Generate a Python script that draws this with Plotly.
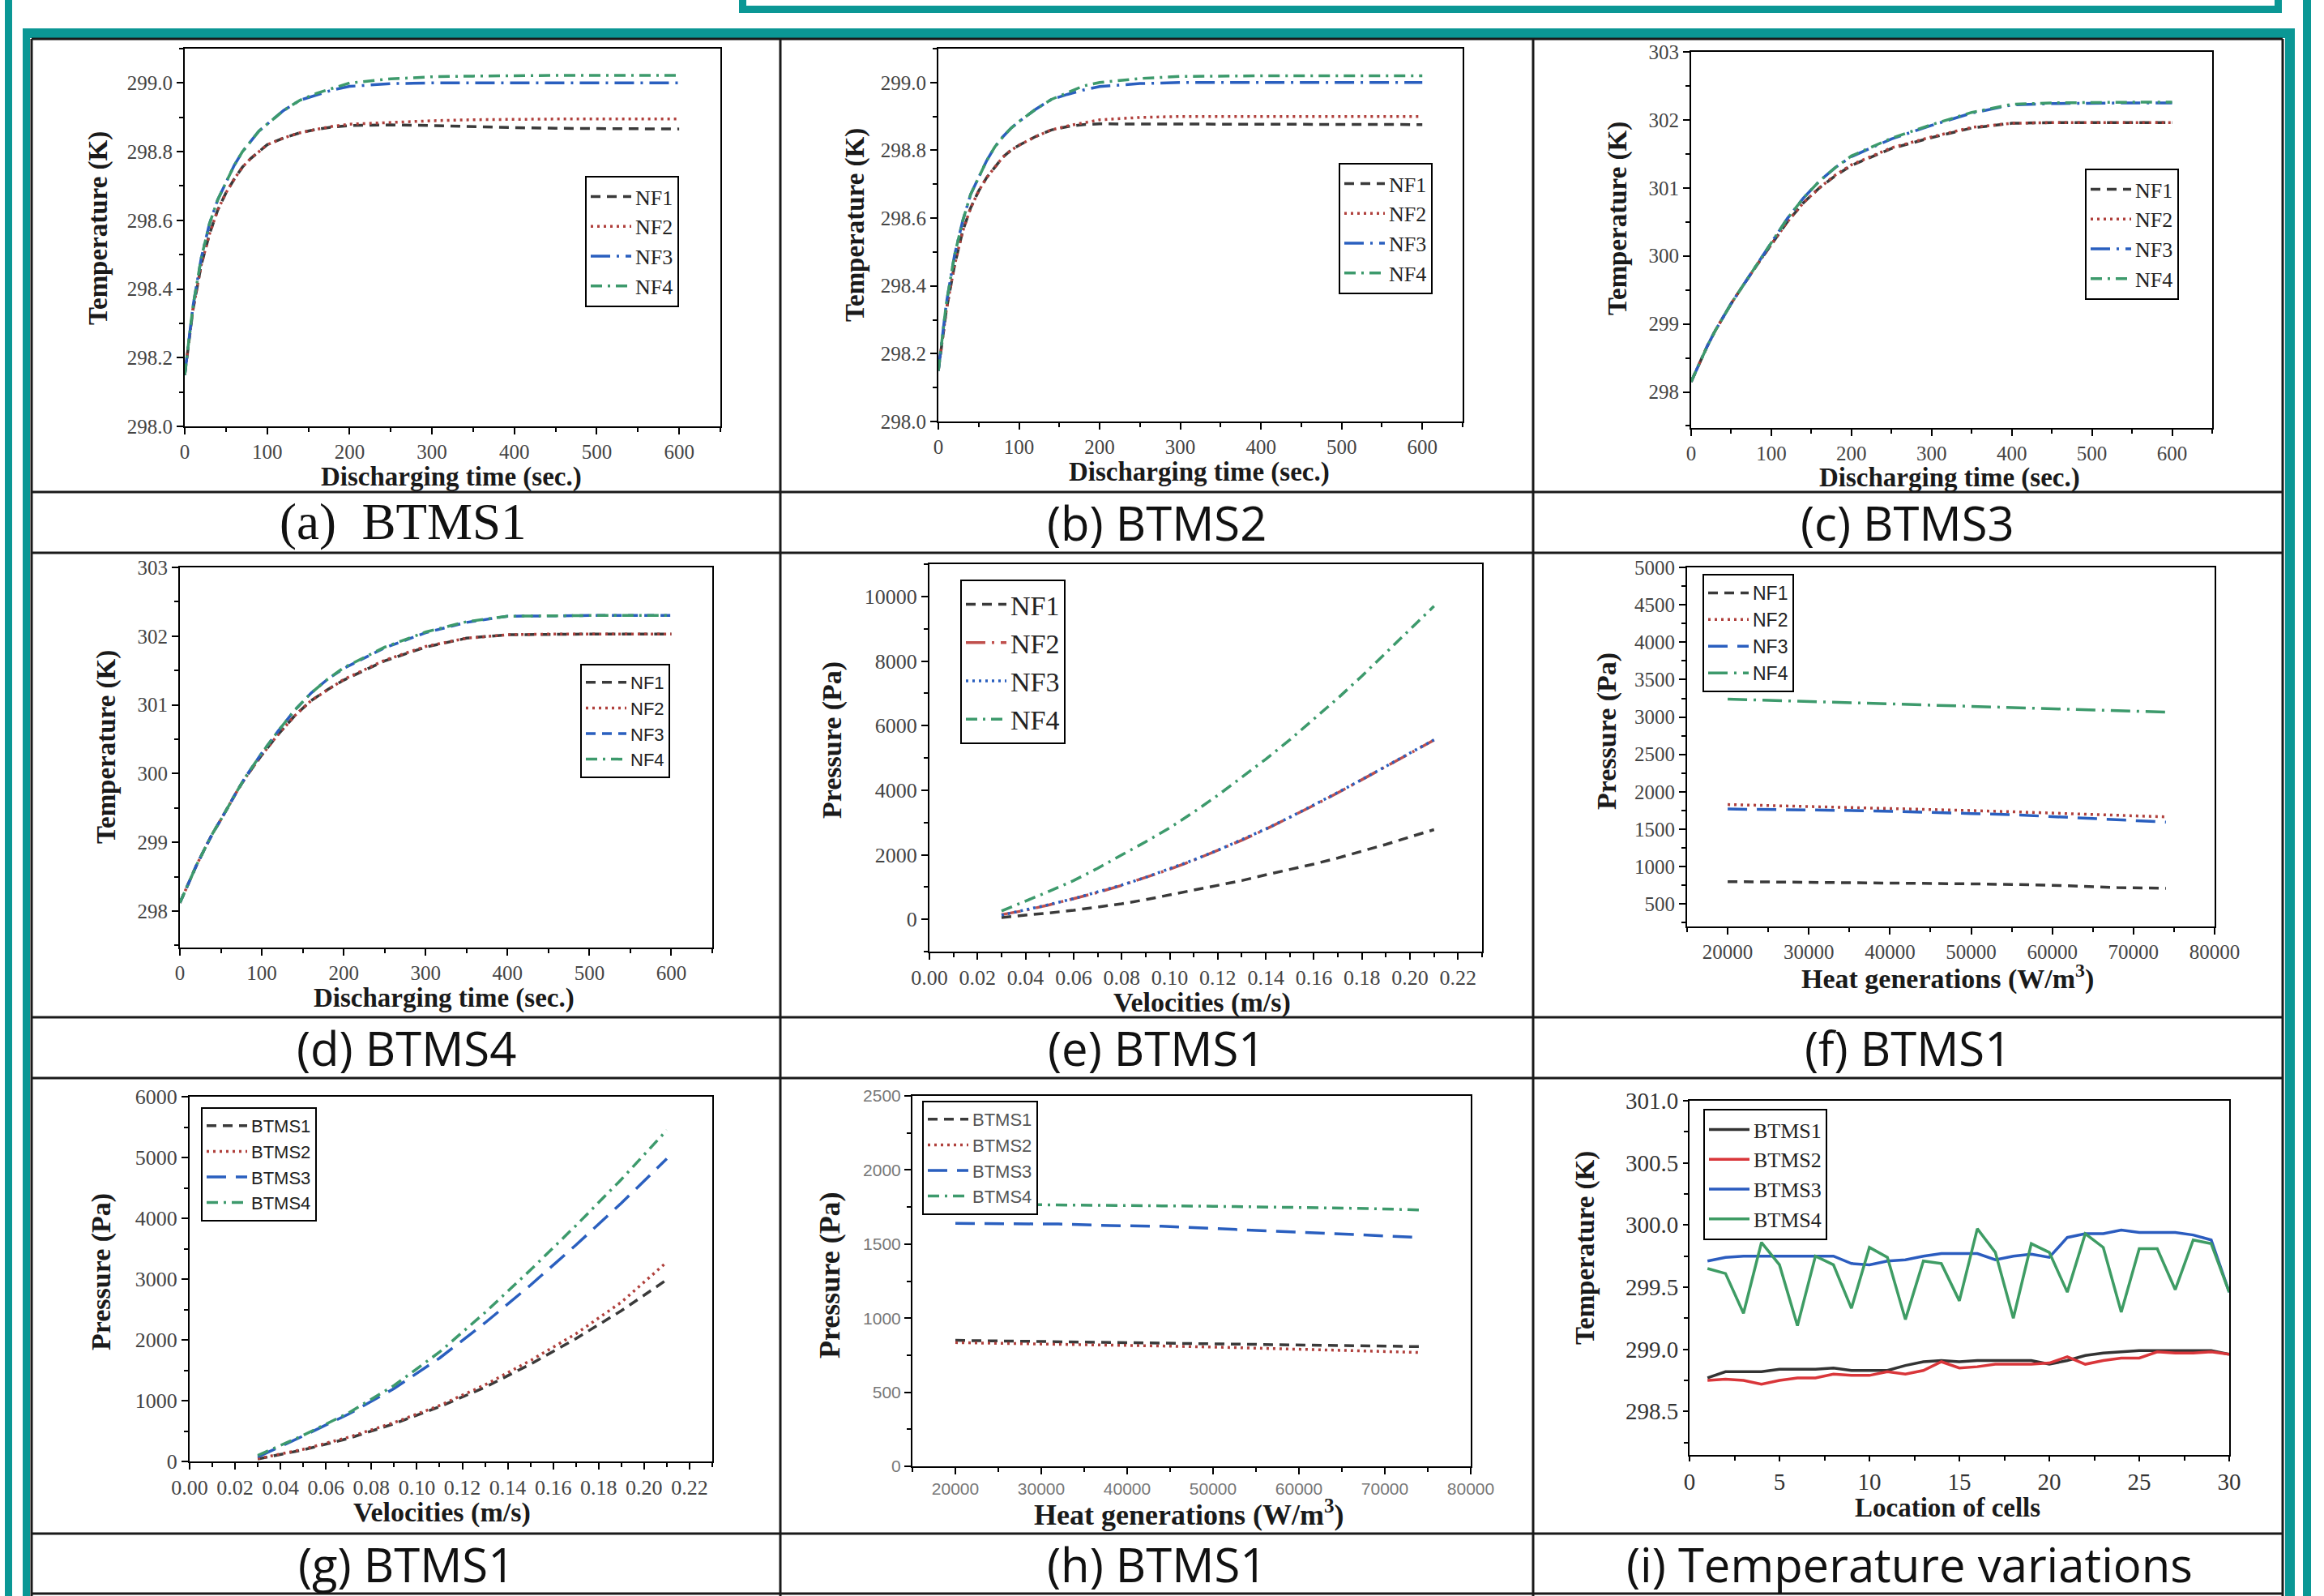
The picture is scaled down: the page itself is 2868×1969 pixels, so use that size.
import plotly.graph_objects as go

# ---------------- data ----------------
t_sec = [0, 10, 20, 30, 40, 50, 60, 70, 80, 90, 100, 120, 140, 160, 180, 200,
         250, 300, 350, 400, 450, 500, 550, 600]

# (a) BTMS1 temperature
a_nf1 = [298.15, 298.34, 298.47, 298.56, 298.63, 298.68, 298.72, 298.755, 298.78, 298.80, 298.82, 298.84,
         298.855, 298.865, 298.872, 298.876, 298.878, 298.876, 298.872, 298.87, 298.868, 298.867, 298.866, 298.866]
a_nf2 = [298.15, 298.34, 298.47, 298.56, 298.63, 298.68, 298.72, 298.755, 298.78, 298.80, 298.82, 298.84,
         298.855, 298.865, 298.874, 298.88, 298.886, 298.89, 298.893, 298.895, 298.895, 298.895, 298.895, 298.895]
a_nf3 = [298.15, 298.35, 298.49, 298.59, 298.66, 298.71, 298.76, 298.80, 298.83, 298.86, 298.88, 298.92,
         298.95, 298.965, 298.98, 298.99, 298.998, 299.0, 299.0, 299.0, 299.0, 299.0, 299.0, 299.0]
a_nf4 = [298.15, 298.35, 298.49, 298.59, 298.66, 298.71, 298.76, 298.80, 298.83, 298.86, 298.88, 298.92,
         298.95, 298.97, 298.985, 299.0, 299.012, 299.018, 299.02, 299.022, 299.022, 299.022, 299.022, 299.022]

# (b) BTMS2 temperature
b_nf1 = [298.15, 298.33, 298.46, 298.56, 298.63, 298.68, 298.72, 298.75, 298.78, 298.80, 298.815, 298.84,
         298.86, 298.87, 298.876, 298.878, 298.878, 298.877, 298.876, 298.876, 298.876, 298.876, 298.876, 298.876]
b_nf2 = [298.15, 298.33, 298.46, 298.56, 298.63, 298.68, 298.72, 298.75, 298.78, 298.80, 298.815, 298.84,
         298.86, 298.872, 298.882, 298.89, 298.897, 298.9, 298.9, 298.9, 298.9, 298.9, 298.9, 298.9]
b_nf3 = [298.15, 298.35, 298.49, 298.59, 298.67, 298.72, 298.77, 298.81, 298.84, 298.865, 298.885, 298.92,
         298.95, 298.965, 298.978, 298.988, 298.997, 299.0, 299.0, 299.0, 299.0, 299.0, 299.0, 299.0]
b_nf4 = [298.15, 298.35, 298.49, 298.59, 298.67, 298.72, 298.77, 298.81, 298.84, 298.865, 298.885, 298.92,
         298.95, 298.97, 298.99, 299.0, 299.012, 299.018, 299.02, 299.02, 299.02, 299.02, 299.02, 299.02]

# (c) BTMS3 temperature
c_nf1 = [298.15, 298.42, 298.67, 298.90, 299.11, 299.30, 299.48, 299.66, 299.83, 300.00, 300.17, 300.50,
         300.78, 301.00, 301.18, 301.33, 301.58, 301.74, 301.88, 301.95, 301.96, 301.96, 301.96, 301.96]
c_nf2 = [298.15, 298.42, 298.67, 298.90, 299.11, 299.30, 299.48, 299.66, 299.83, 300.00, 300.17, 300.50,
         300.78, 301.00, 301.19, 301.34, 301.59, 301.75, 301.89, 301.95, 301.96, 301.96, 301.96, 301.96]
c_nf3 = [298.15, 298.42, 298.67, 298.90, 299.11, 299.30, 299.48, 299.66, 299.84, 300.02, 300.20, 300.55,
         300.85, 301.10, 301.30, 301.46, 301.72, 301.92, 302.10, 302.22, 302.24, 302.25, 302.25, 302.25]
c_nf4 = [298.15, 298.42, 298.67, 298.90, 299.11, 299.30, 299.48, 299.66, 299.84, 300.02, 300.20, 300.55,
         300.85, 301.10, 301.30, 301.47, 301.73, 301.93, 302.11, 302.23, 302.25, 302.26, 302.26, 302.26]

# (d) BTMS4 temperature
d_nf1 = [298.12, 298.40, 298.66, 298.90, 299.13, 299.33, 299.55, 299.75, 299.94, 300.11, 300.27, 300.57,
         300.84, 301.06, 301.22, 301.36, 301.64, 301.84, 301.97, 302.02, 302.03, 302.03, 302.03, 302.03]
d_nf2 = [298.12, 298.40, 298.66, 298.90, 299.13, 299.33, 299.55, 299.75, 299.94, 300.11, 300.27, 300.57,
         300.84, 301.06, 301.22, 301.37, 301.65, 301.85, 301.97, 302.02, 302.03, 302.03, 302.03, 302.03]
d_nf3 = [298.12, 298.40, 298.66, 298.90, 299.13, 299.33, 299.55, 299.75, 299.95, 300.13, 300.30, 300.62,
         300.92, 301.17, 301.37, 301.53, 301.83, 302.05, 302.20, 302.29, 302.30, 302.30, 302.30, 302.30]
d_nf4 = [298.12, 298.40, 298.66, 298.90, 299.13, 299.33, 299.55, 299.75, 299.95, 300.13, 300.30, 300.62,
         300.92, 301.17, 301.37, 301.54, 301.84, 302.06, 302.21, 302.29, 302.30, 302.30, 302.30, 302.30]

# (e) pressure vs velocity, NF1-NF4
vel_e = [0.03, 0.04, 0.05, 0.06, 0.07, 0.08, 0.09, 0.10, 0.11, 0.12, 0.13, 0.14, 0.15, 0.16,
         0.17, 0.18, 0.19, 0.20, 0.21]
e_nf1 = [56, 120, 200, 280, 370, 480, 610, 761, 900, 1041, 1200, 1377, 1540, 1713, 1900, 2105, 2320, 2553, 2777]
e_nf2 = [145, 280, 450, 630, 830, 1050, 1290, 1550, 1830, 2130, 2450, 2790, 3150, 3530, 3920, 4320, 4730, 5140, 5550]
e_nf3 = [130, 290, 460, 640, 840, 1060, 1300, 1560, 1840, 2140, 2460, 2800, 3160, 3540, 3930, 4330, 4740, 5150, 5560]
e_nf4 = [258, 560, 873, 1200, 1580, 1993, 2400, 2833, 3320, 3841, 4390, 4961, 5560, 6193, 6850, 7536, 8250, 8992, 9700]

# (f) pressure vs heat generation, NF1-NF4
heat_f = [20000, 26000, 32000, 38000, 44000, 50000, 56000, 62000, 68000, 74000]
f_nf1 = [800, 795, 790, 780, 775, 770, 760, 745, 720, 710]
f_nf2 = [1830, 1815, 1800, 1785, 1770, 1750, 1730, 1710, 1690, 1665]
f_nf3 = [1770, 1765, 1755, 1745, 1730, 1710, 1690, 1660, 1630, 1595]
f_nf4 = [3240, 3220, 3200, 3185, 3165, 3145, 3125, 3105, 3085, 3065]

# (g) pressure vs velocity, BTMS1-4
vel_g = [0.03, 0.05, 0.07, 0.09, 0.11, 0.13, 0.15, 0.17, 0.19, 0.21]
g_b1 = [40, 190, 380, 620, 900, 1220, 1600, 2020, 2480, 2990]
g_b2 = [45, 200, 400, 640, 920, 1260, 1660, 2100, 2620, 3280]
g_b3 = [74, 420, 780, 1200, 1700, 2280, 2900, 3560, 4250, 4980]
g_b4 = [100, 430, 800, 1250, 1800, 2450, 3150, 3880, 4640, 5450]

# (h) pressure vs heat generation, BTMS1-4
heat_h = [20000, 26000, 32000, 38000, 44000, 50000, 56000, 62000, 68000, 74000]
h_b1 = [850, 845, 840, 835, 830, 825, 822, 818, 812, 808]
h_b2 = [835, 830, 825, 820, 812, 805, 797, 788, 778, 768]
h_b3 = [1640, 1638, 1635, 1625, 1620, 1605, 1590, 1575, 1560, 1545]
h_b4 = [1770, 1768, 1765, 1760, 1758, 1755, 1750, 1745, 1740, 1730]

# (i) temperature variation along cells
cells = list(range(1, 31))
i_b1 = [298.77, 298.82, 298.82, 298.82, 298.84, 298.84, 298.84, 298.85, 298.83, 298.83, 298.83, 298.87, 298.90,
        298.91, 298.90, 298.91, 298.91, 298.91, 298.91, 298.88, 298.91, 298.95, 298.97, 298.98, 298.99, 298.99,
        298.99, 298.99, 298.99, 298.96]
i_b2 = [298.75, 298.76, 298.75, 298.72, 298.75, 298.77, 298.77, 298.80, 298.79, 298.79, 298.82, 298.80, 298.83,
        298.90, 298.85, 298.86, 298.88, 298.88, 298.88, 298.89, 298.94, 298.88, 298.91, 298.93, 298.93, 298.98,
        298.97, 298.97, 298.98, 298.96]
i_b3 = [299.71, 299.74, 299.75, 299.75, 299.75, 299.75, 299.75, 299.75, 299.69, 299.68, 299.71, 299.72, 299.75,
        299.77, 299.77, 299.77, 299.72, 299.75, 299.765, 299.74, 299.90, 299.93, 299.93, 299.96, 299.94, 299.94,
        299.94, 299.92, 299.88, 299.46]
i_b4 = [299.65, 299.61, 299.29, 299.86, 299.68, 299.19, 299.75, 299.68, 299.33, 299.82, 299.74, 299.24, 299.71,
        299.69, 299.39, 299.97, 299.78, 299.25, 299.85, 299.78, 299.46, 299.93, 299.82, 299.30, 299.81, 299.81,
        299.48, 299.88, 299.85, 299.46]

nf_names = ["NF1", "NF2", "NF3", "NF4"]
btms_names = ["BTMS1", "BTMS2", "BTMS3", "BTMS4"]
captions = ["(a) \u00a0BTMS1", "(b) BTMS2", "(c) BTMS3", "(d) BTMS4", "(e) BTMS1",
            "(f) BTMS1", "(g) BTMS1", "(h) BTMS1", "(i) Temperature variations"]

# ---------------- styling ----------------
W, H = 2868, 1969
TEAL = "#0b9795"
GRAY, RED, BLUE, GREEN = "#3a3a3a", "#b0403c", "#2a5fbf", "#3d9a6c"
SERIF, SANS = "Liberation Serif", "Liberation Sans"

def xp(v):
    return v / W

def yp(v):
    return 1 - v / H

D_DASH = "12px,8px"
D_DOT = "3px,5px"
D_LDD = "24px,8px,3px,8px"
D_DD = "14px,7px,3px,7px"
D_LONG = "24px,12px"

panels = [
    dict(box=(228, 60, 889, 526), xr=[0, 650], yr=[298.0, 299.1], xd=100, xt0=0, xm=50, yd=0.2, yt0=298.0, ym=0.1,
         xf="d", yf=".1f", tf=(SERIF, 25, "#444"), tl=8, yt="Temperature (K)", ytp=(122, 282),
         xt="Discharging time (sec.)", xtp=(557, 588), ts=33, leg=(722, 217), lf=(SERIF, 26, "#222"),
         x=t_sec, ys=[a_nf1, a_nf2, a_nf3, a_nf4], names=nf_names,
         styles=[(GRAY, D_DASH), (RED, D_DOT), (BLUE, D_LDD), (GREEN, D_DD)]),
    dict(box=(1158, 60, 1805, 520), xr=[0, 650], yr=[298.0, 299.1], xd=100, xt0=0, xm=50, yd=0.2, yt0=298.0, ym=0.1,
         xf="d", yf=".1f", tf=(SERIF, 25, "#444"), tl=8, yt="Temperature (K)", ytp=(1055, 278),
         xt="Discharging time (sec.)", xtp=(1480, 583), ts=33, leg=(1652, 201), lf=(SERIF, 26, "#222"),
         x=t_sec, ys=[b_nf1, b_nf2, b_nf3, b_nf4], names=nf_names,
         styles=[(GRAY, D_DASH), (RED, D_DOT), (BLUE, D_LDD), (GREEN, D_DD)]),
    dict(box=(2087, 64, 2730, 528), xr=[0, 650], yr=[297.47, 303], xd=100, xt0=0, xm=50, yd=1, yt0=298, ym=0.5,
         xf="d", yf="d", tf=(SERIF, 25, "#444"), tl=8, yt="Temperature (K)", ytp=(1996, 270),
         xt="Discharging time (sec.)", xtp=(2406, 589), ts=33, leg=(2573, 208), lf=(SERIF, 26, "#222"),
         x=t_sec, ys=[c_nf1, c_nf2, c_nf3, c_nf4], names=nf_names,
         styles=[(GRAY, D_DASH), (RED, D_DOT), (BLUE, D_LDD), (GREEN, D_DD)]),
    dict(box=(222, 700, 879, 1169), xr=[0, 650], yr=[297.47, 303], xd=100, xt0=0, xm=50, yd=1, yt0=298, ym=0.5,
         xf="d", yf="d", tf=(SERIF, 25, "#444"), tl=8, yt="Temperature (K)", ytp=(132, 922),
         xt="Discharging time (sec.)", xtp=(548, 1231), ts=33, leg=(716, 819), lf=(SANS, 22, "#222"),
         x=t_sec, ys=[d_nf1, d_nf2, d_nf3, d_nf4], names=nf_names,
         styles=[(GRAY, D_DASH), (RED, D_DOT), (BLUE, D_DASH), (GREEN, D_DD)]),
    dict(box=(1147, 696, 1829, 1174), xr=[0, 0.23], yr=[-1000, 11000], xd=0.02, xt0=0, xm=0.01, yd=2000, yt0=0,
         ym=1000, xf=".2f", yf="d", tf=(SERIF, 26, "#444"), tl=8, yt="Pressure (Pa)", ytp=(1027, 913),
         xt="Velocities (m/s)", xtp=(1483, 1237), ts=34, leg=(1185, 715), lf=(SERIF, 34, "#222"),
         x=vel_e, ys=[e_nf1, e_nf2, e_nf3, e_nf4], names=nf_names,
         styles=[(GRAY, D_DASH), ("#c0504d", D_LDD), (BLUE, D_DOT), (GREEN, D_DD)]),
    dict(box=(2082, 700, 2733, 1143), xr=[15000, 80000], yr=[200, 5000], xd=10000, xt0=20000, xm=5000, yd=500,
         yt0=500, ym=250, xf="d", yf="d", tf=(SERIF, 25, "#444"), tl=8, yt="Pressure (Pa)", ytp=(1983, 902),
         xt="Heat generations (W/m<sup>3</sup>)", xtp=(2403, 1205), ts=34, leg=(2101, 708), lf=(SANS, 23, "#222"),
         x=heat_f, ys=[f_nf1, f_nf2, f_nf3, f_nf4], names=nf_names,
         styles=[(GRAY, D_DASH), (RED, D_DOT), (BLUE, D_LONG), (GREEN, D_LDD)]),
    dict(box=(234, 1353, 879, 1803), xr=[0, 0.23], yr=[0, 6000], xd=0.02, xt0=0, xm=0.01, yd=1000, yt0=0, ym=500,
         xf=".2f", yf="d", tf=(SERIF, 26, "#444"), tl=8, yt="Pressure (Pa)", ytp=(125, 1569),
         xt="Velocities (m/s)", xtp=(545, 1866), ts=34, leg=(248, 1366), lf=(SANS, 22, "#222"),
         x=vel_g, ys=[g_b1, g_b2, g_b3, g_b4], names=btms_names,
         styles=[(GRAY, D_DASH), (RED, D_DOT), (BLUE, D_LONG), (GREEN, D_DD)]),
    dict(box=(1126, 1352, 1815, 1809), xr=[15000, 80000], yr=[0, 2500], xd=10000, xt0=20000, xm=5000, yd=500,
         yt0=0, ym=250, xf="d", yf="d", tf=(SANS, 21, "#777"), tl=8, yt="Pressure (Pa)", ytp=(1024, 1573),
         xt="Heat generations (W/m<sup>3</sup>)", xtp=(1468, 1866), ts=36, leg=(1138, 1358), lf=(SANS, 22, "#555"),
         x=heat_h, ys=[h_b1, h_b2, h_b3, h_b4], names=btms_names,
         styles=[(GRAY, D_DASH), (RED, D_DOT), (BLUE, D_LONG), (GREEN, D_DD)]),
    dict(box=(2085, 1358, 2751, 1795), xr=[0, 30], yr=[298.15, 301.0], xd=5, xt0=0, xm=2.5, yd=0.5, yt0=298.5,
         ym=0.25, xf="d", yf=".1f", tf=(SERIF, 29, "#333"), tl=6, yt="Temperature (K)", ytp=(1956, 1539),
         xt="Location of cells", xtp=(2403, 1860), ts=33, leg=(2102, 1368), lf=(SERIF, 26, "#222"),
         x=cells, ys=[i_b1, i_b2, i_b3, i_b4], names=btms_names,
         styles=[("#333333", "solid"), ("#d9363a", "solid"), ("#2b5cbf", "solid"), ("#3e9c64", "solid")]),
]

fig = go.Figure()
layout = dict(width=W, height=H, margin=dict(l=0, r=0, t=0, b=0, pad=0, autoexpand=False),
              paper_bgcolor="white", plot_bgcolor="white", showlegend=True)
annotations = []

for k, p in enumerate(panels):
    n = k + 1
    xa = "xaxis" if n == 1 else f"xaxis{n}"
    ya = "yaxis" if n == 1 else f"yaxis{n}"
    xr_ = "x" if n == 1 else f"x{n}"
    yr_ = "y" if n == 1 else f"y{n}"
    lg = "legend" if n == 1 else f"legend{n}"
    x0, y0, x1, y1 = p["box"]
    tfam, tsz, tcol = p["tf"]
    common = dict(showline=True, linecolor="black", linewidth=2, mirror=True, ticks="outside", ticklen=p["tl"],
                  tickwidth=2, tickcolor="black", showgrid=False, zeroline=False, automargin=False,
                  tickfont=dict(family=tfam, size=tsz, color=tcol))
    layout[xa] = dict(common, domain=[xp(x0), xp(x1)], range=p["xr"], anchor=yr_, tickmode="linear",
                      tick0=p["xt0"], dtick=p["xd"], tickformat=p["xf"],
                      minor=dict(ticks="outside", ticklen=5, tickwidth=2, tickcolor="black",
                                 dtick=p["xm"], tick0=p["xt0"]))
    layout[ya] = dict(common, domain=[yp(y1), yp(y0)], range=p["yr"], anchor=xr_, tickmode="linear",
                      tick0=p["yt0"], dtick=p["yd"], tickformat=p["yf"],
                      minor=dict(ticks="outside", ticklen=5, tickwidth=2, tickcolor="black",
                                 dtick=p["ym"], tick0=p["yt0"]))
    lfam, lsz, lcol = p["lf"]
    layout[lg] = dict(x=xp(p["leg"][0]), y=yp(p["leg"][1]), xanchor="left", yanchor="top",
                      bgcolor="white", bordercolor="black", borderwidth=2, tracegroupgap=0,
                      itemwidth=50, font=dict(family=lfam, size=lsz, color=lcol))
    for name, yv, (col, dash) in zip(p["names"], p["ys"], p["styles"]):
        fig.add_trace(go.Scatter(x=p["x"], y=yv, name=name, mode="lines", xaxis=xr_, yaxis=yr_, legend=lg,
                                 line=dict(color=col, width=3.5, dash=dash)))
    annotations.append(dict(x=xp(p["ytp"][0]), y=yp(p["ytp"][1]), xref="paper", yref="paper",
                            xanchor="center", yanchor="middle",
                            text=f"<b>{p['yt']}</b>", textangle=-90, showarrow=False,
                            font=dict(family=SERIF, size=p["ts"], color="#1a1a1a")))
    annotations.append(dict(x=xp(p["xtp"][0]), y=yp(p["xtp"][1]), xref="paper", yref="paper",
                            xanchor="center", yanchor="middle",
                            text=f"<b>{p['xt']}</b>", showarrow=False,
                            font=dict(family=SERIF, size=p["ts"], color="#1a1a1a")))

# captions
cap_pos = [(497, 644), (1427, 644), (2354, 644), (501, 1292), (1427, 1292), (2354, 1292),
           (501, 1929), (1427, 1929), (2356, 1929)]
for i, (txt, (cx, cy)) in enumerate(zip(captions, cap_pos)):
    fam = SERIF if i == 0 else "Open Sans"
    size = 63 if i == 0 else 58
    annotations.append(dict(x=xp(cx), y=yp(cy), xref="paper", yref="paper", text=txt, showarrow=False,
                            xanchor="center", yanchor="middle", font=dict(family=fam, size=size, color="#111")))

layout["annotations"] = annotations

# frame shapes
shapes = []

def bar(xa0, ya0, xa1, ya1, color=TEAL):
    shapes.append(dict(type="rect", xref="paper", yref="paper", x0=xp(xa0), x1=xp(xa1), y0=yp(ya1), y1=yp(ya0),
                       line=dict(width=0), fillcolor=color, layer="above"))

def hline(xa0, xa1, yv, color="#1a1a1a", w=3):
    shapes.append(dict(type="line", xref="paper", yref="paper", x0=xp(xa0), x1=xp(xa1), y0=yp(yv), y1=yp(yv),
                       line=dict(color=color, width=w)))

def vline(xv, ya0, ya1, color="#1a1a1a", w=3):
    shapes.append(dict(type="line", xref="paper", yref="paper", x0=xp(xv), x1=xp(xv), y0=yp(ya0), y1=yp(ya1),
                       line=dict(color=color, width=w)))

# outer teal frame (left/right bars)
bar(6, 0, 15, H)
bar(2842, 0, 2852, H)
# inner teal frame
bar(28, 35, 37, H)
bar(2820, 35, 2832, H)
bar(28, 35, 2832, 47)
# top teal box (partly cut)
bar(912, 0, 921, 16)
bar(2807, 0, 2816, 16)
bar(912, 7, 2816, 16)

for yv in [48, 607, 682, 1255, 1330, 1892, 1966]:
    hline(39, 2817, yv)
for xv in [39, 963, 1892, 2817]:
    vline(xv, 48, H)

layout["shapes"] = shapes
fig.update_layout(**layout)
fig.write_html("out.html", config={"displayModeBar": False},
               post_script="document.body.style.margin='0';document.documentElement.style.overflow='hidden';")
